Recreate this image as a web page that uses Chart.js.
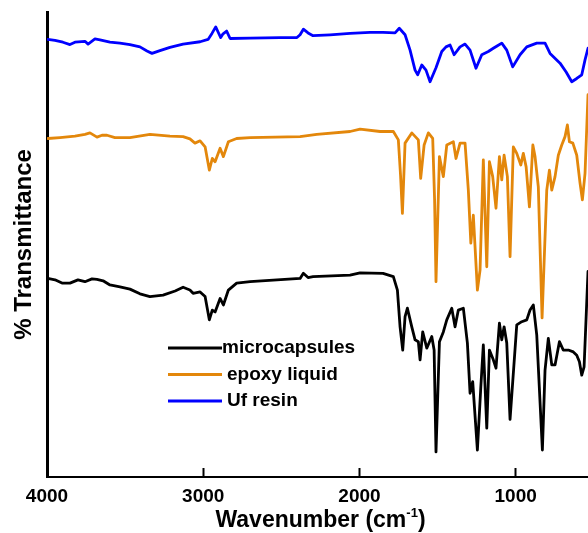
<!DOCTYPE html>
<html>
<head>
<meta charset="utf-8">
<script src="https://cdn.jsdelivr.net/npm/chart.js@4.4.1/dist/chart.umd.min.js"></script>
<style>
    html, body { margin: 0; padding: 0; background: #fff; }
    canvas { display: block; }
</style>
</head>
<body>
<canvas id="ftirChart" width="588" height="533"></canvas>
<script>
// x: wavenumber (cm-1), y: % transmittance (curves offset for display)
const xTicks = [4000, 3000, 2000, 1000];

const microWave = [3995, 3949, 3904, 3853, 3802, 3757, 3712, 3680, 3641, 3597, 3533, 3469, 3405, 3341, 3257, 3180, 3129, 3085, 3065, 3020, 2988, 2961, 2942, 2924, 2892, 2871, 2839, 2786, 2700, 2380, 2359, 2329, 2297, 2060, 1996, 1849, 1783, 1757, 1740, 1723, 1708, 1693, 1665, 1644, 1623, 1612, 1595, 1569, 1537, 1522, 1510, 1488, 1463, 1441, 1409, 1388, 1367, 1335, 1309, 1292, 1275, 1245, 1223, 1207, 1185, 1168, 1143, 1126, 1104, 1089, 1074, 1057, 1036, 1015, 993, 961, 929, 908, 887, 865, 829, 812, 791, 769, 748, 720, 695, 663, 631, 609, 592, 577, 562, 537];
const microT = [42.7, 42.4, 41.7, 41.7, 42.4, 42.0, 42.6, 42.5, 42.2, 41.3, 40.9, 40.4, 39.4, 38.8, 39.1, 40.0, 40.8, 40.2, 39.5, 39.8, 38.8, 33.8, 35.9, 35.5, 38.4, 37.0, 40.2, 41.7, 42.0, 42.7, 43.8, 42.9, 43.1, 43.4, 43.9, 43.8, 43.1, 40.2, 32.3, 27.3, 34.5, 36.3, 32.3, 29.5, 29.1, 25.2, 31.2, 27.7, 30.2, 27.3, 5.4, 29.1, 31.2, 33.8, 36.3, 32.3, 35.9, 36.3, 28.8, 18.0, 20.5, 5.8, 19.4, 28.4, 10.5, 27.3, 25.2, 23.4, 33.1, 29.5, 32.3, 28.8, 12.4, 22.3, 32.7, 33.4, 33.8, 35.9, 37.0, 30.5, 5.8, 23.0, 29.8, 24.1, 24.1, 29.1, 27.3, 27.3, 26.9, 26.2, 24.8, 21.9, 23.7, 44.2];

const epoxyWave = [3995, 3917, 3821, 3757, 3725, 3680, 3648, 3616, 3565, 3469, 3341, 3213, 3129, 3085, 3053, 3020, 2988, 2961, 2942, 2924, 2892, 2871, 2839, 2786, 2700, 2380, 2273, 2060, 1996, 1868, 1783, 1751, 1737, 1725, 1708, 1665, 1623, 1608, 1586, 1559, 1531, 1519, 1510, 1488, 1463, 1441, 1399, 1382, 1356, 1324, 1303, 1287, 1271, 1245, 1228, 1207, 1185, 1168, 1147, 1126, 1104, 1089, 1074, 1053, 1036, 1015, 993, 967, 951, 933, 912, 890, 876, 855, 831, 801, 784, 769, 748, 727, 705, 684, 669, 656, 634, 609, 588, 573, 556, 537];
const epoxyT = [72.8, 73.0, 73.3, 73.7, 74.0, 73.1, 73.5, 73.5, 73.0, 73.0, 73.7, 73.3, 73.2, 72.7, 71.8, 72.3, 71.0, 66.0, 68.5, 67.8, 70.7, 68.9, 72.1, 72.8, 73.0, 73.2, 73.7, 74.3, 74.8, 74.3, 74.3, 72.5, 64.9, 56.7, 71.8, 74.0, 72.5, 64.2, 71.4, 74.0, 72.8, 59.6, 42.0, 68.9, 64.6, 71.4, 72.1, 68.5, 71.8, 71.8, 61.7, 50.3, 56.3, 40.2, 44.5, 68.2, 45.2, 67.8, 64.6, 57.8, 68.9, 63.9, 69.2, 64.6, 47.4, 71.0, 69.6, 67.1, 69.6, 66.7, 58.1, 71.4, 68.9, 62.4, 34.2, 61.7, 66.0, 61.7, 64.6, 69.2, 71.4, 73.2, 75.7, 72.1, 71.8, 69.2, 63.2, 59.6, 65.3, 82.2];

const ufWave = [3995, 3949, 3898, 3853, 3821, 3757, 3737, 3693, 3661, 3597, 3533, 3469, 3405, 3360, 3328, 3277, 3213, 3129, 3020, 2969, 2944, 2920, 2905, 2888, 2873, 2850, 2828, 2700, 2508, 2400, 2380, 2359, 2329, 2297, 2188, 2060, 1932, 1849, 1772, 1745, 1708, 1676, 1644, 1627, 1601, 1574, 1548, 1510, 1473, 1446, 1420, 1394, 1356, 1324, 1292, 1254, 1217, 1175, 1143, 1119, 1089, 1057, 1019, 972, 929, 865, 812, 780, 716, 677, 641, 609, 577, 556, 537];
const ufT = [94.1, 93.9, 93.5, 93.0, 93.5, 93.7, 93.1, 94.2, 94.0, 93.5, 93.3, 93.0, 92.5, 91.6, 91.1, 91.7, 92.4, 93.1, 93.6, 94.1, 95.4, 96.8, 95.7, 94.5, 95.3, 95.9, 94.3, 94.4, 94.5, 94.5, 95.1, 96.3, 95.5, 94.9, 95.1, 95.4, 95.6, 95.6, 95.5, 96.5, 95.1, 91.8, 87.5, 86.5, 88.6, 87.5, 85.0, 88.0, 91.5, 92.5, 92.9, 90.8, 92.5, 93.1, 91.8, 87.9, 90.8, 91.5, 92.2, 92.7, 93.3, 91.8, 88.2, 90.8, 92.5, 93.3, 93.3, 91.1, 89.0, 87.1, 85.0, 85.7, 86.5, 89.7, 92.2];

const FONT = "'Liberation Sans', Arial, sans-serif";
Chart.defaults.font.family = FONT;
Chart.defaults.color = '#000';

function toPoints(xs, ys) {
    return xs.map((x, i) => ({ x: x, y: ys[i] }));
}

// legend drawn inside the plot, lines on the left, bold labels
const innerLegend = {
    id: 'innerLegend',
    afterDraw(chart) {
        const ctx = chart.ctx;
        ctx.save();
        ctx.font = 'bold 19px ' + FONT;
        ctx.textBaseline = 'middle';
        ctx.fillStyle = '#000';
        chart.data.datasets.forEach((ds, i) => {
            const y = 348 + i * 26.5;
            ctx.strokeStyle = ds.borderColor;
            ctx.lineWidth = 3;
            ctx.beginPath();
            ctx.moveTo(168, y);
            ctx.lineTo(222, y);
            ctx.stroke();
            ctx.fillText(ds.label, i === 0 ? 222 : 227, y);
        });
        ctx.restore();
    }
};

// x axis title with a superscript
const xTitle = {
    id: 'xTitle',
    afterDraw(chart) {
        const ctx = chart.ctx;
        const area = chart.chartArea;
        ctx.save();
        ctx.fillStyle = '#000';
        ctx.textBaseline = 'alphabetic';
        ctx.font = 'bold 23px ' + FONT;
        const main = 'Wavenumber (cm';
        const wMain = ctx.measureText(main).width;
        const wClose = ctx.measureText(')').width;
        ctx.font = 'bold 13px ' + FONT;
        const wSup = ctx.measureText('-1').width;
        const total = wMain + wSup + wClose;
        let x = (area.left + area.right) / 2 + 3 - total / 2;
        const base = 527;
        ctx.font = 'bold 23px ' + FONT;
        ctx.fillText(main, x, base);
        x += wMain;
        ctx.font = 'bold 13px ' + FONT;
        ctx.fillText('-1', x, base - 10);
        x += wSup;
        ctx.font = 'bold 23px ' + FONT;
        ctx.fillText(')', x, base);
        ctx.restore();
    }
};

const ftirChart = new Chart(document.getElementById('ftirChart'), {
    type: 'line',
    data: {
        datasets: [
            {
                label: 'microcapsules',
                data: toPoints(microWave, microT),
                borderColor: '#000000'
            },
            {
                label: 'epoxy liquid',
                data: toPoints(epoxyWave, epoxyT),
                borderColor: '#E3870B'
            },
            {
                label: 'Uf resin',
                data: toPoints(ufWave, ufT),
                borderColor: '#0000FF'
            }
        ]
    },
    options: {
        responsive: false,
        animation: false,
        layout: { padding: { top: 12, left: 0, right: 0, bottom: 0 } },
        elements: {
            line: { borderWidth: 2.8, tension: 0, borderJoinStyle: 'round', borderCapStyle: 'round' },
            point: { radius: 0, hoverRadius: 0 }
        },
        plugins: {
            legend: { display: false },
            tooltip: { enabled: false }
        },
        scales: {
            x: {
                type: 'linear',
                reverse: true,
                min: 537,
                max: 4000,
                afterBuildTicks: (s) => { s.ticks = xTicks.map(v => ({ value: v })); },
                afterFit: (s) => { s.height = 56; },
                grid: { drawOnChartArea: false, tickLength: -9, tickWidth: 2, tickColor: '#000' },
                border: { color: '#000', width: 2 },
                ticks: {
                    autoSkip: false,
                    maxRotation: 0,
                    padding: 17,
                    color: '#000',
                    font: { size: 19, weight: 'bold' },
                    callback: (v) => String(v)
                }
            },
            y: {
                min: 0,
                max: 100,
                afterFit: (s) => { s.width = 47; },
                grid: { display: false },
                border: { color: '#000', width: 3 },
                ticks: { display: false },
                title: {
                    display: true,
                    text: '% Transmittance',
                    color: '#000',
                    font: { size: 24, weight: 'bold' },
                    padding: { top: 10, bottom: 0 }
                }
            }
        }
    },
    plugins: [innerLegend, xTitle]
});
</script>
</body>
</html>
